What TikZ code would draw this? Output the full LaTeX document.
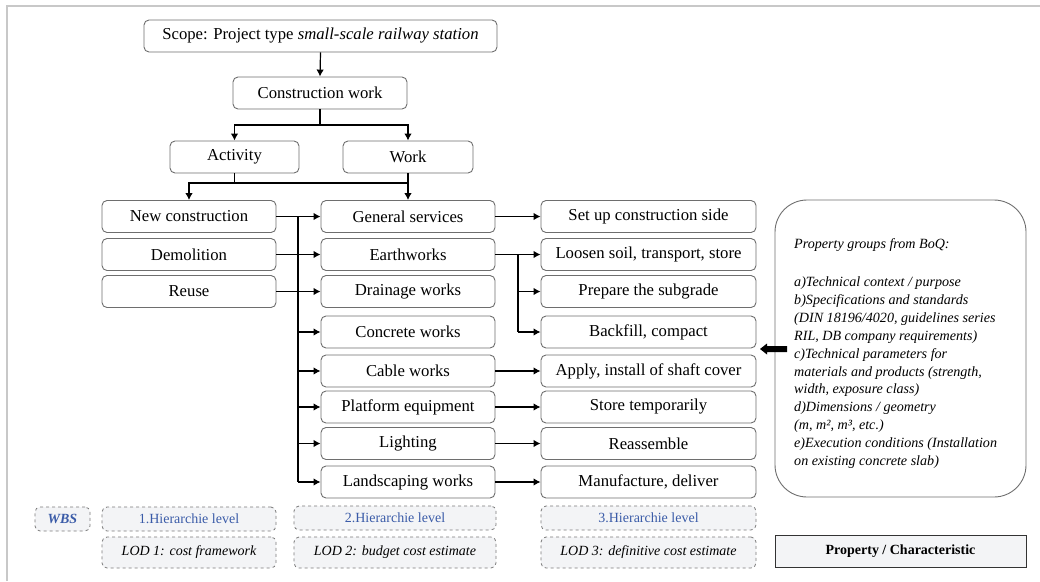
\documentclass[tikz,border=0pt]{standalone}
\usepackage{fontspec}
\setmainfont{Liberation Serif}
\usetikzlibrary{arrows.meta}
\definecolor{boxline}{HTML}{6E6E6E}
\definecolor{dashline}{HTML}{7A7A7A}
\definecolor{lodfill}{HTML}{F3F4F6}
\definecolor{lvlblue}{HTML}{3A5BA8}
\definecolor{framegray}{HTML}{C8C8C8}
\begin{document}
\begin{tikzpicture}[x=1pt,y=-1pt,
  wbox/.style={draw=boxline,line width=0.9pt,rounded corners=5pt,fill=white,
    inner sep=0pt,minimum height=32pt,font=\fontsize{16.7}{18}\selectfont},
  lod/.style={draw=dashline,dashed,line width=0.8pt,rounded corners=5pt,fill=lodfill,
    inner sep=0pt,font=\fontsize{14}{16}\selectfont},
  conn/.style={draw=black,line width=1.2pt},
  arr/.style={conn,-{Latex[length=7pt,width=7.5pt]}},
]
\useasboundingbox (0,0) rectangle (1040,581);
% outer frame
\draw[framegray,line width=1.5pt] (7,581) -- (7,6) -- (1040,6);

% top of the hierarchy
\node[wbox,minimum width=353pt] (scope) at (320.5,36)
  {Scope: Project type \textit{small-scale railway station}};
\node[wbox,minimum width=174pt] (cw) at (320,93) {Construction work};
\node[wbox,minimum width=129pt] (act) at (234.5,157) {Activity};
\node[wbox,minimum width=130pt] (work) at (408,157) {Work};

% level 1: activities
\node[wbox,minimum width=174pt] (nc) at (189,216.5) {New construction};
\node[wbox,minimum width=174pt] (dem) at (189,254.5) {Demolition};
\node[wbox,minimum width=174pt] (reu) at (189,291.5) {Reuse};

% level 2: works
\node[wbox,minimum width=174pt] (gs) at (408,216.5) {General services};
\node[wbox,minimum width=174pt] (ew) at (408,254.5) {Earthworks};
\node[wbox,minimum width=174pt] (dw) at (408,291.5) {Drainage works};
\node[wbox,minimum width=174pt] (cc) at (408,332) {Concrete works};
\node[wbox,minimum width=174pt] (cb) at (408,371) {Cable works};
\node[wbox,minimum width=174pt] (pe) at (408,407) {Platform equipment};
\node[wbox,minimum width=174pt] (li) at (408,443.5) {Lighting};
\node[wbox,minimum width=174pt] (ls) at (408,482) {Landscaping works};

% level 3: activities of a work
\node[wbox,minimum width=215pt] (su) at (648.5,216.5) {Set up construction side};
\node[wbox,minimum width=215pt] (lo) at (648.5,254.5) {Loosen soil, transport, store};
\node[wbox,minimum width=215pt] (pr) at (648.5,291.5) {Prepare the subgrade};
\node[wbox,minimum width=215pt] (bf) at (648.5,332) {Backfill, compact};
\node[wbox,minimum width=215pt] (ap) at (648.5,371) {Apply, install of shaft cover};
\node[wbox,minimum width=215pt] (st) at (648.5,407) {Store temporarily};
\node[wbox,minimum width=215pt] (ra) at (648.5,443.5) {Reassemble};
\node[wbox,minimum width=215pt] (mf) at (648.5,482) {Manufacture, deliver};

% property groups
\draw[draw=boxline,line width=0.9pt,rounded corners=32pt] (775,200) rectangle (1026,497);
\node[anchor=north west,inner sep=0pt,align=left,
  font=\fontsize{14.1}{17.9}\selectfont\itshape] (prop) at (794,238.5)
  {Property groups from BoQ:\\[20pt]
   a)Technical context / purpose\\
   b)Specifications and standards\\
   (DIN 18196/4020, guidelines series\\
   RIL, DB company requirements)\\
   c)Technical parameters for\\
   materials and products (strength,\\
   width, exposure class)\\
   d)Dimensions / geometry\\
   (m, m², m³, etc.)\\
   e)Execution conditions (Installation\\
   on existing concrete slab)};
% thick arrow pointing at the work items
\fill[black] (787,346) -- (767,346) -- (767,343.5) -- (760,349) -- (767,354.5) -- (767,352) -- (787,352) -- cycle;

% connectors of the upper levels
\coordinate (j1) at (0,125);
\coordinate (j2) at (0,183);
\draw[arr] (scope.south) -- (cw.north);
\draw[arr] (cw.south) -- (cw.south |- j1) -| (act.north);
\draw[arr] (cw.south |- j1) -| (work.north);
\draw[arr] (act.south) -- (act.south |- j2) -| (nc.north);
\draw[conn] (act.south |- j2) -- (work.south |- j2);
\draw[arr] (work.south) -- (gs.north);

% bus between the activities and the works
\coordinate (bus) at (298,0);
\draw[conn] (bus |- nc.east) -- (bus |- ls.west);
\draw[arr] (nc.east) -- (gs.west);
\draw[arr] (dem.east) -- (ew.west);
\draw[arr] (reu.east) -- (dw.west);
\foreach \n in {cc,cb,pe,li,ls}
  \draw[arr] (bus |- \n.west) -- (\n.west);

% works to their activities
\coordinate (eb) at (518,0);
\draw[arr] (gs.east) -- (su.west);
\draw[arr] (ew.east) -- (lo.west);
\draw[conn] (eb |- ew.east) -- (eb |- bf.west);
\draw[arr] (eb |- pr.west) -- (pr.west);
\draw[arr] (eb |- bf.west) -- (bf.west);
\draw[arr] (cb.east) -- (ap.west);
\draw[arr] (pe.east) -- (st.west);
\draw[arr] (li.east) -- (ra.west);
\draw[arr] (ls.east) -- (mf.west);

% legend: hierarchy levels and levels of detail
\node[lod,minimum width=55pt,minimum height=24pt,text=lvlblue,font=\fontsize{14}{16}\selectfont\bfseries\itshape]
  (wbs) at (62.5,519) {WBS};
\node[lod,minimum width=174pt,minimum height=24pt,text=lvlblue] (h1) at (189,519) {1.Hierarchie level};
\node[lod,minimum width=202pt,minimum height=24pt,text=lvlblue] (h2) at (395,518) {2.Hierarchie level};
\node[lod,minimum width=215pt,minimum height=24pt,text=lvlblue] (h3) at (648.5,518) {3.Hierarchie level};
\node[lod,minimum width=174pt,minimum height=31pt,font=\fontsize{14}{16}\selectfont\itshape]
  (l1) at (189,552.5) {LOD 1: cost framework};
\node[lod,minimum width=202pt,minimum height=31pt,font=\fontsize{14}{16}\selectfont\itshape]
  (l2) at (395,552.5) {LOD 2: budget cost estimate};
\node[lod,minimum width=215pt,minimum height=31pt,font=\fontsize{14}{16}\selectfont\itshape]
  (l3) at (648.5,552.5) {LOD 3: definitive cost estimate};
\node[draw=black!80,line width=1pt,fill=lodfill,inner sep=0pt,minimum width=251pt,minimum height=32pt,
  font=\fontsize{14}{16}\selectfont\bfseries] (pc) at (900.5,551) {Property / Characteristic};
\end{tikzpicture}
\end{document}
